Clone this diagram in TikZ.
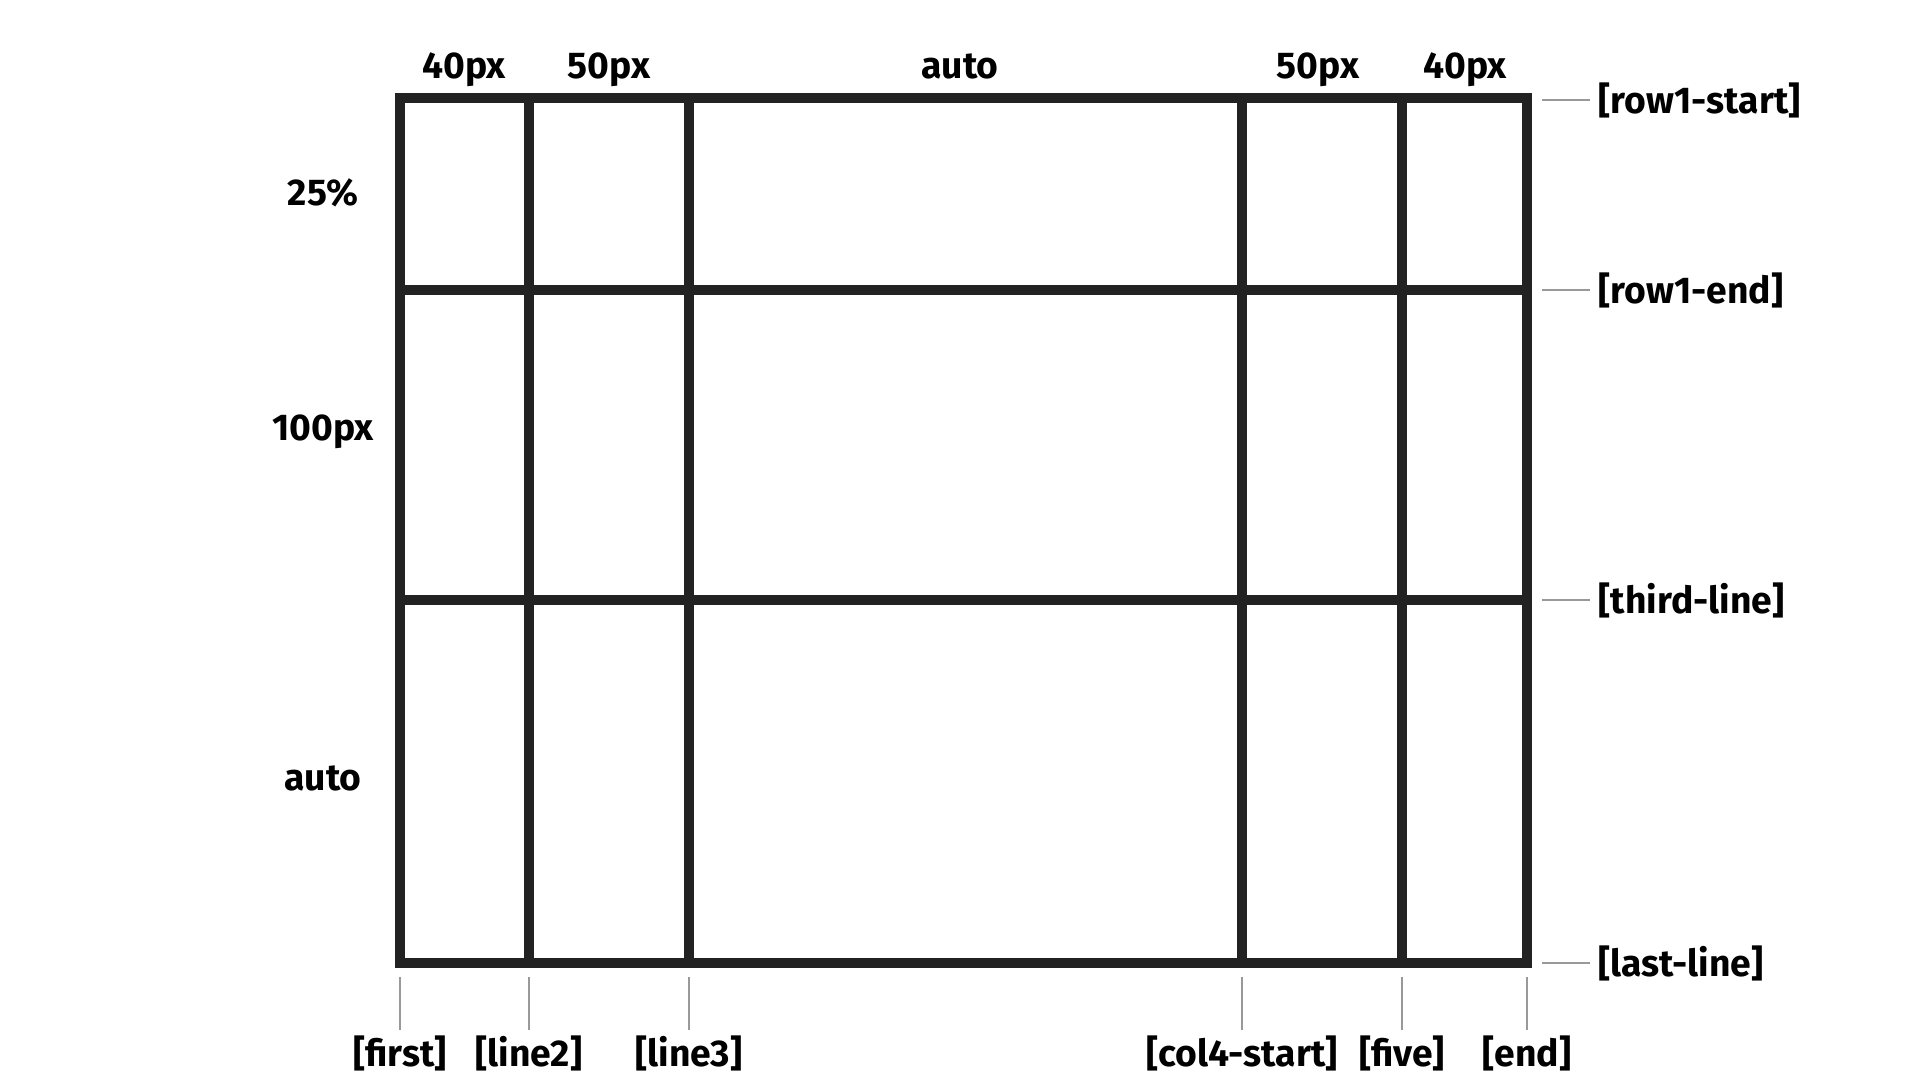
\documentclass[tikz,border=0pt]{standalone}
\usepackage{fontspec}
\setmainfont{Fira Sans}
\definecolor{gridcol}{HTML}{222222}
\definecolor{tickcol}{HTML}{999999}

\begin{document}
\begin{tikzpicture}[
		x=0.1mm, y=-0.1mm,
		every node/.style={font=\bfseries\fontsize{10.6}{12}\selectfont, inner sep=0pt},
		gridline/.style={line width=1mm, draw=gridcol},
		tick/.style={line width=0.25mm, draw=tickcol},
		toplabel/.style={anchor=base},
		sidelabel/.style={anchor=center},
		rlabel/.style={anchor=west, inner sep=0.8mm},
		blabel/.style={anchor=north, inner sep=0.5mm}
		]
		\useasboundingbox (0,0) rectangle (1920,1080);
		% the grid
		\draw[gridline] (400,98) rectangle (1527,963);
		\draw[gridline] (529,98) -- (529,963);
		\draw[gridline] (689,98) -- (689,963);
		\draw[gridline] (1242,98) -- (1242,963);
		\draw[gridline] (1402,98) -- (1402,963);
		\draw[gridline] (400,290) -- (1527,290);
		\draw[gridline] (400,600) -- (1527,600);
		% track sizes
		\node[toplabel] (c1) at (464,78) {40px};
		\node[toplabel] (c2) at (609,78) {50px};
		\node[toplabel] (c3) at (960,78) {auto};
		\node[toplabel] (c4) at (1318,78) {50px};
		\node[toplabel] (c5) at (1465,78) {40px};
		\node[sidelabel] (r1) at (323,193) {25\%};
		\node[sidelabel] (r2) at (323,432) {100px};
		\node[sidelabel] (r3) at (323,778) {auto};
		% row line names
		\coordinate (h1) at (1542,100);
		\coordinate (h2) at (1542,290);
		\coordinate (h3) at (1542,600);
		\coordinate (h4) at (1542,963);
		\node[rlabel] (row1start) at (1590,100) {[row1-start]};
		\node[rlabel] (row1end) at (1590,290) {[row1-end]};
		\node[rlabel] (thirdline) at (1590,600) {[third-line]};
		\node[rlabel] (lastline) at (1590,963) {[last-line]};
		\draw[tick] (h1) -- (row1start.west);
		\draw[tick] (h2) -- (row1end.west);
		\draw[tick] (h3) -- (thirdline.west);
		\draw[tick] (h4) -- (lastline.west);
		% column line names
		\coordinate (v1) at (400,977);
		\coordinate (v2) at (529,977);
		\coordinate (v3) at (689,977);
		\coordinate (v4) at (1242,977);
		\coordinate (v5) at (1402,977);
		\coordinate (v6) at (1527,977);
		\node[blabel] (first) at (400,1030) {[first]};
		\node[blabel] (line2) at (529,1030) {[line2]};
		\node[blabel] (line3) at (689,1030) {[line3]};
		\node[blabel] (col4start) at (1242,1030) {[col4-start]};
		\node[blabel] (five) at (1402,1030) {[five]};
		\node[blabel] (end) at (1527,1030) {[end]};
		\draw[tick] (v1) -- (first.north);
		\draw[tick] (v2) -- (line2.north);
		\draw[tick] (v3) -- (line3.north);
		\draw[tick] (v4) -- (col4start.north);
		\draw[tick] (v5) -- (five.north);
		\draw[tick] (v6) -- (end.north);
\end{tikzpicture}
\end{document}
